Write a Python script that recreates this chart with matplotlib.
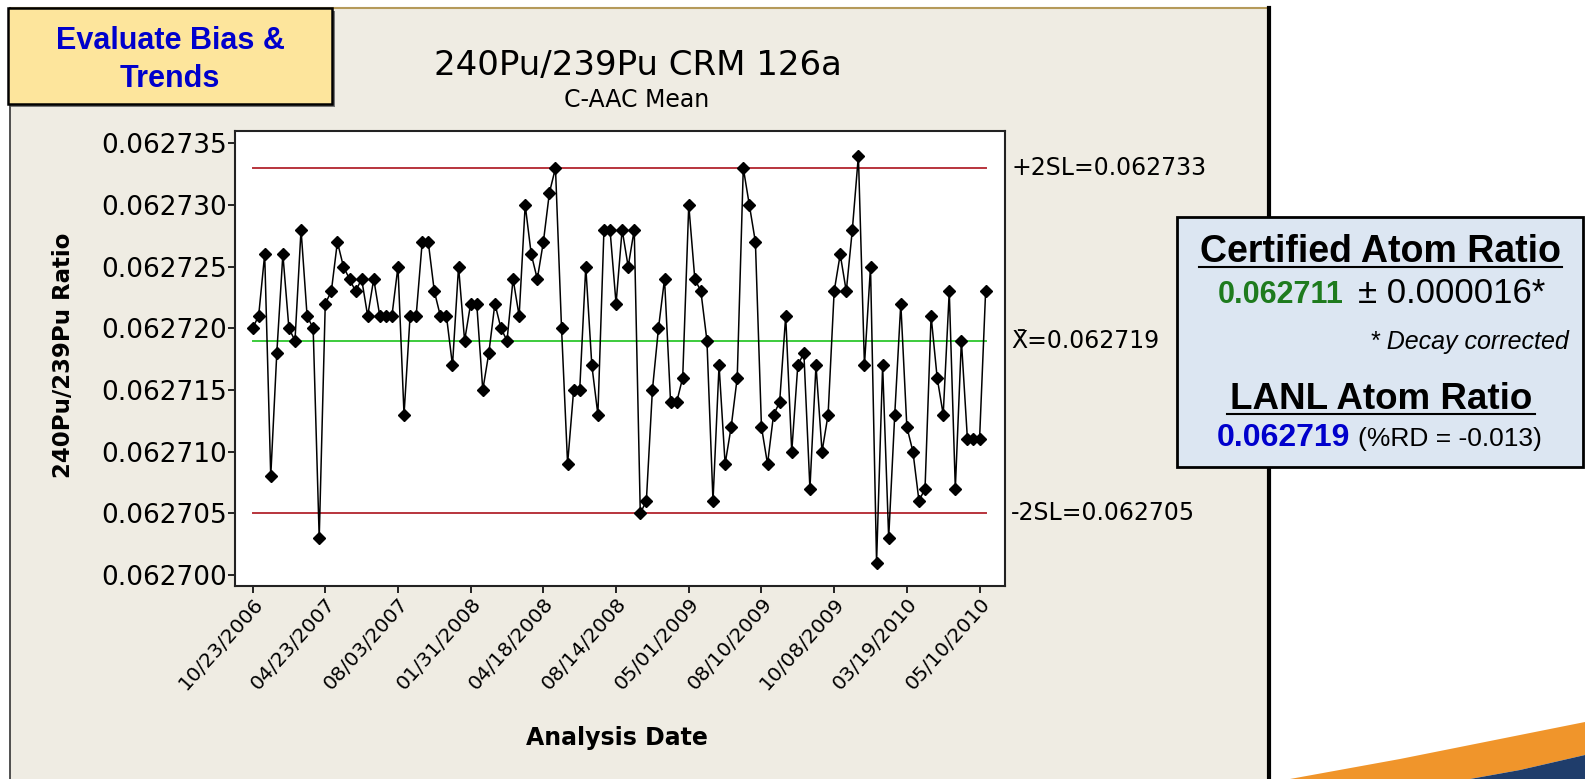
import matplotlib
matplotlib.use('Agg')
import matplotlib.pyplot as plt
import matplotlib.patches as patches
import matplotlib.transforms as mtransforms

# 240Pu/239Pu ratio measurements (C-AAC mean), one per analysis
ratios = [0.062720, 0.062721, 0.062726, 0.062708, 0.062718, 0.062726, 0.062720, 0.062719,
          0.062728, 0.062721, 0.062720, 0.062703, 0.062722, 0.062723, 0.062727, 0.062725,
          0.062724, 0.062723, 0.062724, 0.062721, 0.062724, 0.062721, 0.062721, 0.062721,
          0.062725, 0.062713, 0.062721, 0.062721, 0.062727, 0.062727, 0.062723, 0.062721,
          0.062721, 0.062717, 0.062725, 0.062719, 0.062722, 0.062722, 0.062715, 0.062718,
          0.062722, 0.062720, 0.062719, 0.062724, 0.062721, 0.062730, 0.062726, 0.062724,
          0.062727, 0.062731, 0.062733, 0.062720, 0.062709, 0.062715, 0.062715, 0.062725,
          0.062717, 0.062713, 0.062728, 0.062728, 0.062722, 0.062728, 0.062725, 0.062728,
          0.062705, 0.062706, 0.062715, 0.062720, 0.062724, 0.062714, 0.062714, 0.062716,
          0.062730, 0.062724, 0.062723, 0.062719, 0.062706, 0.062717, 0.062709, 0.062712,
          0.062716, 0.062733, 0.062730, 0.062727, 0.062712, 0.062709, 0.062713, 0.062714,
          0.062721, 0.062710, 0.062717, 0.062718, 0.062707, 0.062717, 0.062710, 0.062713,
          0.062723, 0.062726, 0.062723, 0.062728, 0.062734, 0.062717, 0.062725, 0.062701,
          0.062717, 0.062703, 0.062713, 0.062722, 0.062712, 0.062710, 0.062706, 0.062707,
          0.062721, 0.062716, 0.062713, 0.062723, 0.062707, 0.062719, 0.062711, 0.062711,
          0.062711, 0.062723]

date_labels = ['10/23/2006', '04/23/2007', '08/03/2007', '01/31/2008', '04/18/2008',
               '08/14/2008', '05/01/2009', '08/10/2009', '10/08/2009', '03/19/2010',
               '05/10/2010']
label_step = 12

mean_line = 0.062719
upper_2sl = 0.062733
lower_2sl = 0.062705

W, H = 1585, 779


def fx(px):
    return px / W


def fy(py):
    return 1 - py / H


fig = plt.figure(figsize=(15.85, 7.79), dpi=100)
fig.patch.set_facecolor('white')

# grey minitab panel (behind the axes)
fig.patches.append(patches.Rectangle((fx(10), 0), fx(1269) - fx(10), fy(8), transform=fig.transFigure,
                                     facecolor='#EFECE3', edgecolor='none', zorder=-5))
fig.add_artist(plt.Line2D([fx(10), fx(1269)], [fy(8), fy(8)], color='#B59A5A', lw=1.5, zorder=-4))
fig.add_artist(plt.Line2D([fx(10), fx(10)], [fy(8), 0], color='#333333', lw=1.2, zorder=-4))
fig.add_artist(plt.Line2D([fx(1269), fx(1269)], [fy(8), 0], color='black', lw=3, zorder=1))

# orange swoosh bottom right
swoosh_top = [(1290, 779), (1400, 759), (1500, 739), (1585, 722)]
swoosh_bot = [(1585, 755), (1520, 770), (1470, 779)]
pts = [(fx(x), fy(y)) for x, y in swoosh_top + swoosh_bot]
fig.patches.append(patches.Polygon(pts, closed=True, transform=fig.transFigure,
                                   facecolor='#F0952B', edgecolor='none', zorder=1))
navy = [(1470, 779), (1520, 770), (1585, 755), (1585, 779)]
fig.patches.append(patches.Polygon([(fx(x), fy(y)) for x, y in navy], closed=True,
                                   transform=fig.transFigure, facecolor='#1F3D6B',
                                   edgecolor='none', zorder=1))

ax = fig.add_axes([fx(235), fy(586), fx(1005) - fx(235), fy(131) - fy(586)])
ax.set_facecolor('white')

n = len(ratios)
idx = list(range(n))
ax.plot([0, n - 1], [upper_2sl, upper_2sl], color='#B8343C', lw=1.4, zorder=2)
ax.plot([0, n - 1], [lower_2sl, lower_2sl], color='#B8343C', lw=1.4, zorder=2)
ax.plot([0, n - 1], [mean_line, mean_line], color='#3CCB3C', lw=1.4, zorder=2)
ax.plot(idx, ratios, color='black', lw=1.1, marker='D', ms=6.5, mfc='black', mec='black', zorder=3)

ax.set_xlim(-2.9, 124.2)
ax.set_ylim(0.0626991, 0.0627360)

yt = [0.062700 + 0.000005 * k for k in range(8)]
ax.set_yticks(yt)
ax.set_yticklabels(['%.6f' % v for v in yt], fontsize=19)
ax.set_xticks([k * label_step for k in range(len(date_labels))])
ax.set_xticklabels(date_labels, rotation=48, ha='right', rotation_mode='anchor', fontsize=14.5)
ax.tick_params(axis='both', direction='out', length=5, width=1.2, colors='black', pad=1)
for s in ax.spines.values():
    s.set_linewidth(1.5)
    s.set_color('#222222')

trans = mtransforms.blended_transform_factory(ax.transAxes, ax.transData)
ax.text(1.008, upper_2sl, '+2SL=0.062733', transform=trans, va='center', ha='left', fontsize=17)
ax.text(1.008, mean_line, 'X\u0304=0.062719', transform=trans, va='center', ha='left', fontsize=17)
ax.text(1.008, lower_2sl, '-2SL=0.062705', transform=trans, va='center', ha='left', fontsize=17)

fig.text(fx(638), fy(66), '240Pu/239Pu CRM 126a', ha='center', va='center', fontsize=24.5)
fig.text(fx(637), fy(100), 'C-AAC Mean', ha='center', va='center', fontsize=17)
fig.text(fx(64), fy(355), '240Pu/239Pu Ratio', ha='center', va='center', rotation=90,
         fontsize=16.5, fontweight='bold')
fig.text(fx(617), fy(738), 'Analysis Date', ha='center', va='center', fontsize=17, fontweight='bold')

# yellow label box
fig.patches.append(patches.Rectangle((fx(11), fy(107)), fx(332) - fx(8), fy(8) - fy(104),
                                     transform=fig.transFigure, facecolor='#777777',
                                     edgecolor='none', zorder=4))
fig.patches.append(patches.Rectangle((fx(8), fy(104)), fx(332) - fx(8), fy(8) - fy(104),
                                     transform=fig.transFigure, facecolor='#FDE59C',
                                     edgecolor='black', lw=1.8, zorder=5))
arial = ['Liberation Sans', 'DejaVu Sans']
fig.text(fx(170), fy(41), 'Evaluate Bias &', ha='center', va='center', fontsize=22,
         fontweight='bold', color='#0000CC', family=arial, zorder=6)
fig.text(fx(170), fy(79), 'Trends', ha='center', va='center', fontsize=22,
         fontweight='bold', color='#0000CC', family=arial, zorder=6)

# info box on the right
fig.patches.append(patches.Rectangle((fx(1177), fy(467)), fx(1583) - fx(1177), fy(217) - fy(467),
                                     transform=fig.transFigure, facecolor='#DCE6F2',
                                     edgecolor='black', lw=2, zorder=5))
fig.text(fx(1381), fy(262), 'Certified Atom Ratio', ha='center', va='baseline', fontsize=27,
         fontweight='bold', family=arial, zorder=6)
fig.add_artist(plt.Line2D([fx(1199), fx(1562)], [fy(267), fy(267)], color='black', lw=1.5, zorder=6))
fig.text(fx(1218), fy(303), '0.062711', ha='left', va='baseline', fontsize=22, fontweight='bold',
         color='#1E7B1E', family=arial, zorder=6)
fig.text(fx(1358), fy(303), '\u00b1 0.000016*', ha='left', va='baseline', fontsize=25,
         family=arial, zorder=6)
fig.text(fx(1569), fy(349), '* Decay corrected', ha='right', va='baseline', fontsize=18,
         style='italic', family=arial, zorder=6)
fig.text(fx(1381), fy(409), 'LANL Atom Ratio', ha='center', va='baseline', fontsize=26.5,
         fontweight='bold', family=arial, zorder=6)
fig.add_artist(plt.Line2D([fx(1227), fx(1535)], [fy(414), fy(414)], color='black', lw=1.5, zorder=6))
fig.text(fx(1217), fy(446), '0.062719', ha='left', va='baseline', fontsize=23, fontweight='bold',
         color='#0000CC', family=arial, zorder=6)
fig.text(fx(1358), fy(446), '(%RD = -0.013)', ha='left', va='baseline', fontsize=19,
         family=arial, zorder=6)

fig.savefig('out.png', dpi=100)
